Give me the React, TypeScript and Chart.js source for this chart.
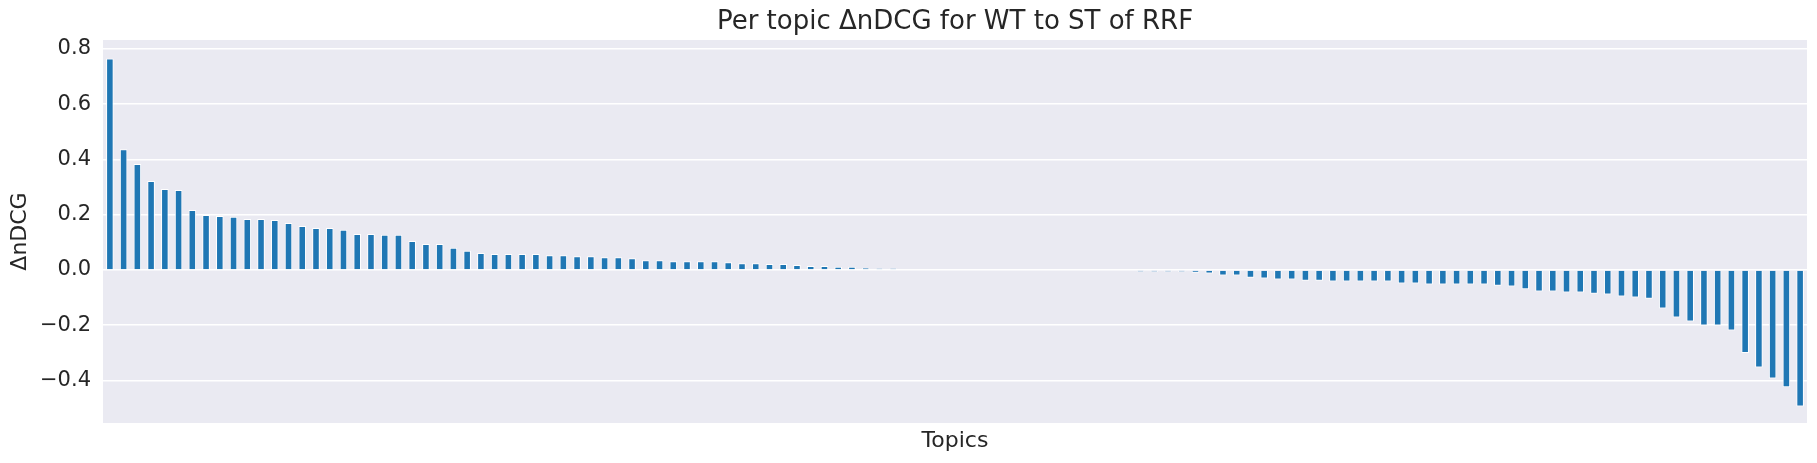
import React, { useEffect, useRef } from "react";
import { Chart, registerables } from "chart.js";

Chart.register(...registerables);

const chartTitle = "Per topic ΔnDCG for WT to ST of RRF";
const xAxisLabel = "Topics";
const yAxisLabel = "ΔnDCG";

const positiveDeltas = [
  0.765, 0.437, 0.383, 0.322, 0.293, 0.289, 0.217, 0.199, 0.195, 0.192,
  0.184, 0.184, 0.181, 0.170, 0.159, 0.152, 0.152, 0.145, 0.130, 0.130,
  0.127, 0.127, 0.105, 0.094, 0.094, 0.080, 0.069, 0.061, 0.058, 0.058,
  0.058, 0.058, 0.053, 0.053, 0.049, 0.049, 0.046, 0.046, 0.042, 0.035,
  0.035, 0.031, 0.031, 0.031, 0.031, 0.028, 0.024, 0.024, 0.021, 0.021,
  0.018, 0.014, 0.014, 0.011, 0.011, 0.007, 0.005, 0.005, 0.002, 0.002,
];

const zeroDeltas = [0, 0, 0, 0, 0, 0, 0, 0, 0, 0];

const negativeDeltas = [
  -0.003, -0.003, -0.003, -0.003, -0.003, -0.007, -0.007, -0.007, -0.007, -0.010,
  -0.013, -0.020, -0.020, -0.028, -0.031, -0.035, -0.035, -0.039, -0.039, -0.042,
  -0.042, -0.042, -0.042, -0.042, -0.049, -0.049, -0.053, -0.053, -0.053, -0.053,
  -0.053, -0.057, -0.060, -0.070, -0.078, -0.078, -0.082, -0.082, -0.086, -0.089,
  -0.096, -0.100, -0.104, -0.140, -0.172, -0.187, -0.201, -0.201, -0.219, -0.301,
  -0.353, -0.393, -0.425, -0.494,
];

const deltaNDCG = [...positiveDeltas, ...zeroDeltas, ...negativeDeltas];
const topics = deltaNDCG.map((_, i) => `Topic ${i + 1}`);

const yTicks = [-0.4, -0.2, 0.0, 0.2, 0.4, 0.6, 0.8];

const FONT = "'DejaVu Sans', sans-serif";
const TEXT = "#262626";

const bgPlugin = {
  id: "plotBg",
  beforeDraw(chart: any) {
    const { ctx, chartArea } = chart;
    if (!chartArea) return;
    ctx.save();
    ctx.fillStyle = "#EAEAF2";
    ctx.fillRect(
      chartArea.left,
      chartArea.top,
      chartArea.right - chartArea.left,
      chartArea.bottom - chartArea.top
    );
    ctx.restore();
  },
};

export default function App() {
  const ref = useRef<HTMLCanvasElement | null>(null);

  useEffect(() => {
    if (!ref.current) return;
    const chart = new Chart(ref.current, {
      type: "bar",
      data: {
        labels: topics,
        datasets: [
          {
            data: deltaNDCG,
            backgroundColor: "#1f77b4",
            borderColor: "#ffffff",
            borderWidth: 1,
            barPercentage: 0.55,
            categoryPercentage: 1.0,
          },
        ],
      },
      plugins: [bgPlugin],
      options: {
        animation: false,
        responsive: true,
        maintainAspectRatio: false,
        layout: { padding: { left: 0, right: 10, top: 0, bottom: 0 } },
        plugins: {
          legend: { display: false },
          tooltip: { enabled: false },
          title: {
            display: true,
            fullSize: false,
            text: chartTitle,
            color: TEXT,
            font: { family: FONT, size: 26, weight: "normal" },
            padding: { top: 7, bottom: 1.8 },
          },
        },
        scales: {
          x: {
            grid: { display: false },
            border: { display: false },
            ticks: { display: false },
            title: {
              display: true,
              text: xAxisLabel,
              color: TEXT,
              font: { family: FONT, size: 22 },
              padding: { top: 0, bottom: 9 },
            },
            afterFit(scale: any) {
              scale.height = 40;
            },
          },
          y: {
            min: -0.554,
            max: 0.832,
            afterBuildTicks(scale: any) {
              scale.ticks = yTicks.map((v) => ({ value: v }));
            },
            grid: {
              color: "#ffffff",
              lineWidth: 1.5,
              drawTicks: false,
            },
            border: { display: false },
            ticks: {
              color: TEXT,
              font: { family: FONT, size: 21 },
              padding: 12,
              callback: (v: any) => {
                const n = Number(v);
                const s = Math.abs(n).toFixed(1);
                return n < -1e-9 ? "\u2212" + s : s;
              },
            },
            title: {
              display: true,
              text: yAxisLabel,
              color: TEXT,
              font: { family: FONT, size: 22 },
              padding: { top: 7, bottom: 0 },
            },
            afterFit(scale: any) {
              scale.width = 103;
            },
          },
        },
      },
    });
    return () => chart.destroy();
  }, []);

  return (
    <div
      style={{
        position: "fixed",
        left: 0,
        top: 0,
        width: 1817,
        height: 463,
        background: "#ffffff",
      }}
    >
      <canvas ref={ref} />
    </div>
  );
}
